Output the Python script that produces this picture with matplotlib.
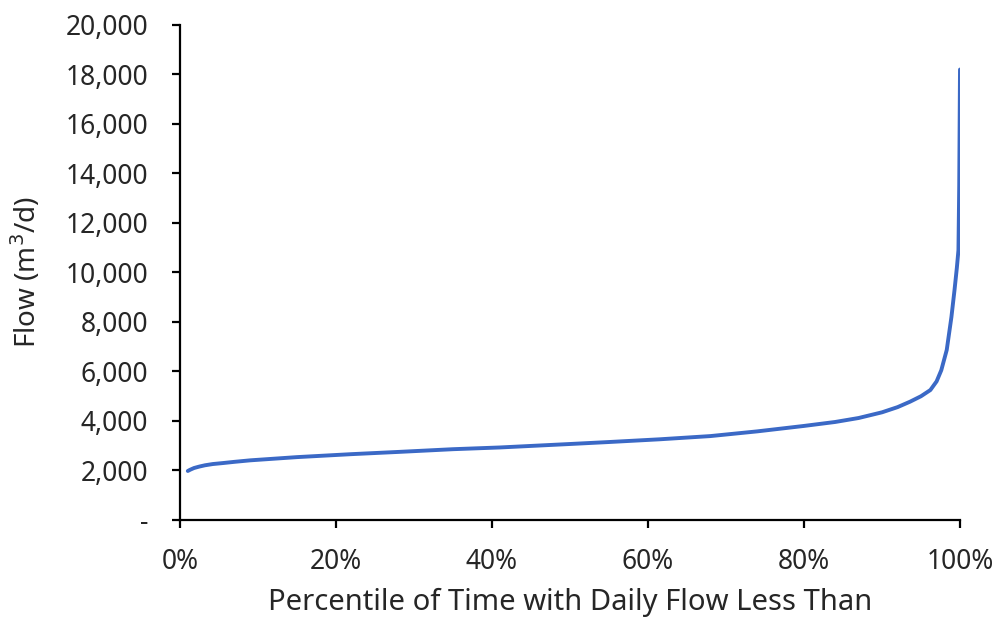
import numpy as np
import matplotlib
matplotlib.use("Agg")
import matplotlib.pyplot as plt
from matplotlib.ticker import FuncFormatter

# flow duration curve
pct = [1.0, 1.3, 1.8, 2.5, 3.2, 4.2, 5.5, 7, 9, 15, 22, 28, 35, 41, 50, 55,
       61.5, 68, 74, 80, 84, 87, 90, 92, 93.6, 95, 96.2, 97, 97.6, 98.3,
       98.9, 99.3, 99.6, 99.8, 99.9, 100]
flow = [1980, 2030, 2100, 2160, 2210, 2260, 2300, 2350, 2410, 2540, 2660,
        2750, 2860, 2930, 3070, 3150, 3260, 3390, 3580, 3800, 3960, 4120,
        4350, 4560, 4780, 5000, 5250, 5600, 6050, 6870, 8200, 9300, 10200,
        10900, 13500, 18200]

x_ticks = [0, 20, 40, 60, 80, 100]
y_ticks = [0, 2000, 4000, 6000, 8000, 10000, 12000, 14000, 16000, 18000, 20000]

plt.rcParams['font.family'] = ['Noto Sans', 'DejaVu Sans']
text_col = '#262626'

fig = plt.figure(figsize=(10, 6.18), dpi=100)
ax = fig.add_axes([0.18, 0.1586, 0.78, 0.801])

ax.plot(pct, flow, color='#3b69c6', lw=2.8, solid_capstyle='round',
        solid_joinstyle='round')

ax.set_xlim(0, 100)
ax.set_ylim(0, 20000)
ax.set_xticks(x_ticks)
ax.set_yticks(y_ticks)
ax.xaxis.set_major_formatter(FuncFormatter(lambda v, p: f"{v:.0f}%"))
ax.yaxis.set_major_formatter(FuncFormatter(lambda v, p: "-" if v == 0 else f"{v:,.0f}"))

for s in ['top', 'right']:
    ax.spines[s].set_visible(False)
for s in ['left', 'bottom']:
    ax.spines[s].set_linewidth(1.6)
    ax.spines[s].set_color('black')

ax.tick_params(axis='y', direction='out', length=6, width=1.6, pad=17,
               labelsize=19, labelcolor=text_col)
ax.tick_params(axis='x', direction='out', length=6, width=1.6, pad=14,
               labelsize=19, labelcolor=text_col)

ax.set_xlabel("Percentile of Time with Daily Flow Less Than", fontsize=21,
              color=text_col, labelpad=9)
ax.set_ylabel("Flow (m$^3$/d)", fontsize=20, color=text_col, labelpad=16)

fig.savefig("out.png", dpi=100, facecolor='white')
